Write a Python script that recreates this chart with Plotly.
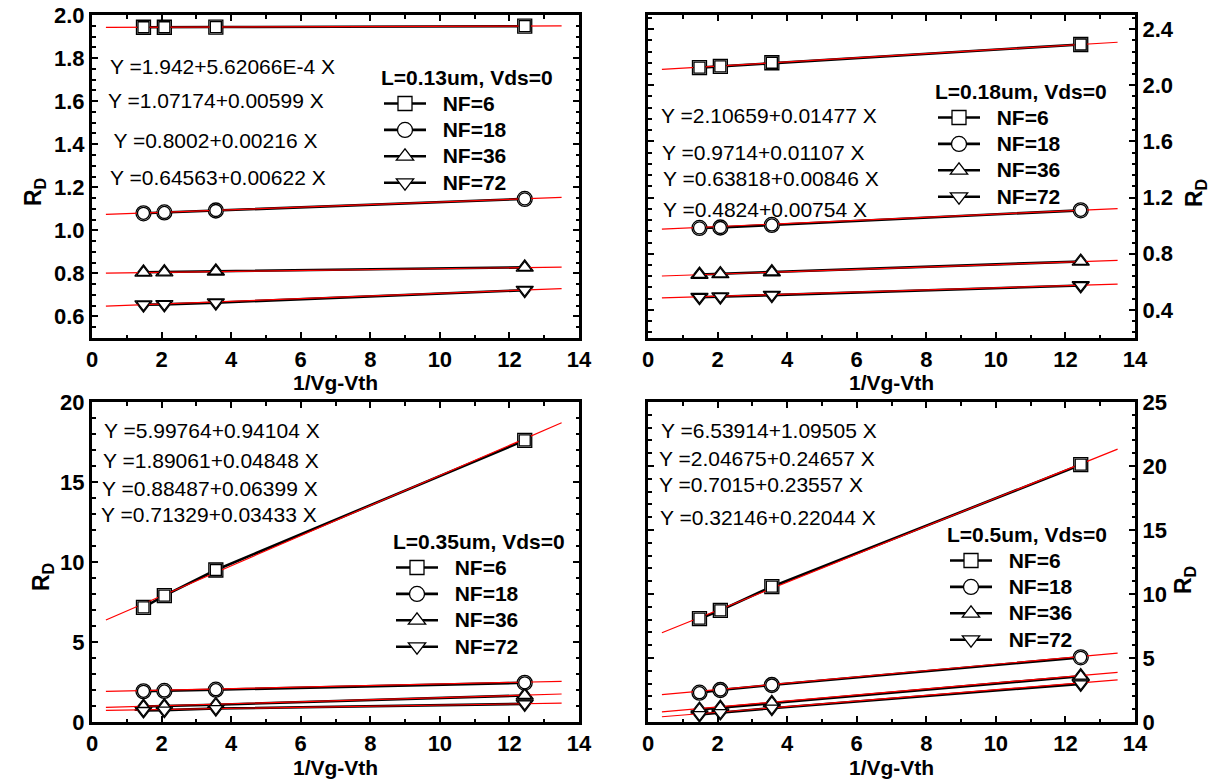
import plotly.graph_objects as go
import numpy as np

W, H = 1226, 782
FONT = "Liberation Sans, Arial, sans-serif"

# 1/(Vg-Vth) bias points shared by every device
vg_inv = [1.48, 2.08, 3.56, 12.44]
nf_labels = ["NF=6", "NF=18", "NF=36", "NF=72"]
symbols = ["square", "circle", "triangle-up", "triangle-down"]
marker_sizes = [11, 12, 12, 12]

# Measured drain resistance R_D, one list per finger count
rd_013 = [
    [1.943, 1.943, 1.944, 1.948],
    [1.079, 1.083, 1.092, 1.146],
    [0.805, 0.806, 0.810, 0.828],
    [0.655, 0.656, 0.664, 0.722],
]
rd_018 = [
    [2.125, 2.134, 2.160, 2.290],
    [0.984, 0.987, 1.005, 1.109],
    [0.652, 0.656, 0.670, 0.745],
    [0.490, 0.495, 0.505, 0.574],
]
rd_035 = [
    [7.17, 7.90, 9.50, 17.60],
    [1.92, 1.94, 2.02, 2.45],
    [0.97, 1.00, 1.08, 1.66],
    [0.72, 0.74, 0.84, 1.13],
]
rd_050 = [
    [8.07, 8.72, 10.57, 20.10],
    [2.29, 2.50, 2.89, 5.05],
    [0.98, 1.12, 1.50, 3.58],
    [0.58, 0.74, 1.08, 2.98],
]

# Linear fits R_D = a + b * X
fit_a_013 = [1.942, 1.07174, 0.8002, 0.64563]
fit_b_013 = [5.62066e-4, 0.00599, 0.00216, 0.00622]
fit_a_018 = [2.10659, 0.9714, 0.63818, 0.4824]
fit_b_018 = [0.01477, 0.01107, 0.00846, 0.00754]
fit_a_035 = [5.99764, 1.89061, 0.88487, 0.71329]
fit_b_035 = [0.94104, 0.04848, 0.06399, 0.03433]
fit_a_050 = [6.53914, 2.04675, 0.7015, 0.32146]
fit_b_050 = [1.09505, 0.24657, 0.23557, 0.22044]

eq_013 = ["Y =1.942+5.62066E-4 X", "Y =1.07174+0.00599 X",
          " Y =0.8002+0.00216 X", "Y =0.64563+0.00622 X"]
eq_018 = ["Y =2.10659+0.01477 X", "Y =0.9714+0.01107 X",
          "Y =0.63818+0.00846 X", "Y =0.4824+0.00754 X"]
eq_035 = ["Y =5.99764+0.94104 X", "Y =1.89061+0.04848 X",
          "Y =0.88487+0.06399 X", "Y =0.71329+0.03433 X"]
eq_050 = ["Y =6.53914+1.09505 X", "Y =2.04675+0.24657 X",
          "Y =0.7015+0.23557 X", "Y =0.32146+0.22044 X"]

titles = ["L=0.13um, Vds=0", "L=0.18um, Vds=0", "L=0.35um, Vds=0", "L=0.5um, Vds=0"]
fit_x = [0.4, 13.5]


def px(x):
    return x / W


def py(y):
    return 1 - y / H


# panel geometry in pixels: (left, right, top, bottom)
boxes = [(92, 579, 15, 338), (648, 1135, 15, 338),
         (92, 579, 402, 722), (648, 1135, 402, 722)]

panels = [
    dict(rd=rd_013, a=fit_a_013, b=fit_b_013, eq=eq_013,
         eq_pos=[(108, 67), (106, 101), (106, 141), (108, 177)],
         leg=(379, 58), rd_lab=(34, 192)),
    dict(rd=rd_018, a=fit_a_018, b=fit_b_018, eq=eq_018,
         eq_pos=[(659, 115), (660, 152), (661, 178), (661, 209)],
         leg=(933, 72), rd_lab=(1196, 193)),
    dict(rd=rd_035, a=fit_a_035, b=fit_b_035, eq=eq_035,
         eq_pos=[(102, 430), (101, 460), (100, 488), (99, 514)],
         leg=(391, 522), rd_lab=(42, 577)),
    dict(rd=rd_050, a=fit_a_050, b=fit_b_050, eq=eq_050,
         eq_pos=[(659, 430), (657, 458), (657, 485), (658, 517)],
         leg=(945, 515), rd_lab=(1184, 580)),
]

yaxes_cfg = [
    dict(range=[0.5, 2.0], dtick=0.2, tick0=0.6, tickformat=".1f", side="left",
         minor_dtick=0.05, minor_tick0=0.6),
    dict(range=[0.2, 2.5], dtick=0.4, tick0=0.4, tickformat=".1f", side="right",
         minor_dtick=0.08, minor_tick0=0.4),
    dict(range=[0, 20], dtick=5, tick0=0, tickformat="d", side="left",
         minor_dtick=1, minor_tick0=0),
    dict(range=[0, 25], dtick=5, tick0=0, tickformat="d", side="right",
         minor_dtick=1, minor_tick0=0),
]

fig = go.Figure()
annotations = []
layout = {}

for i, (p, box) in enumerate(zip(panels, boxes)):
    n = "" if i == 0 else str(i + 1)
    xa, ya = "x" + n, "y" + n
    leg = "legend" + n
    for k in range(4):
        # measured points joined by a black line (also the legend entry)
        fig.add_trace(go.Scatter(
            x=vg_inv, y=p["rd"][k], mode="lines+markers",
            name='<span style="font-size:21px">&nbsp;&nbsp;%s</span>' % nf_labels[k],
            xaxis=xa, yaxis=ya, legend=leg,
            line=dict(color="black", width=2.6),
            marker=dict(symbol=symbols[k], size=marker_sizes[k] + 3, color="white",
                        line=dict(color="black", width=1.3)),
        ))
    for k in range(4):
        fx = np.array(fit_x)
        fy = p["a"][k] + p["b"][k] * fx
        fig.add_trace(go.Scatter(
            x=fx, y=fy, mode="lines", showlegend=False, hoverinfo="skip",
            xaxis=xa, yaxis=ya, line=dict(color="red", width=1.2),
        ))
    for k in range(4):
        fig.add_trace(go.Scatter(
            x=vg_inv, y=p["rd"][k], mode="markers", showlegend=False,
            xaxis=xa, yaxis=ya,
            marker=dict(symbol=symbols[k], size=marker_sizes[k], color="white",
                        line=dict(color="black", width=1.3)),
        ))

    l, r, t, b = box
    yc = yaxes_cfg[i]
    layout["xaxis" + n] = dict(
        domain=[px(l), px(r)], anchor=ya, range=[0, 14], dtick=2, tick0=0,
        ticks="inside", ticklen=6, tickwidth=2, tickcolor="black",
        showline=True, linewidth=3, linecolor="black", mirror="ticks",
        showgrid=False, zeroline=False,
        tickfont=dict(family=FONT, size=22, color="black", weight="bold"),
        minor=dict(dtick=1, tick0=0, ticks="inside", ticklen=3.5, tickwidth=1.5,
                   tickcolor="black", showgrid=False),
    )
    layout["yaxis" + n] = dict(
        domain=[py(b), py(t)], anchor=xa, range=yc["range"], dtick=yc["dtick"],
        tick0=yc["tick0"], tickformat=yc["tickformat"], side=yc["side"],
        ticks="inside", ticklen=6, tickwidth=2, tickcolor="black",
        showline=True, linewidth=3, linecolor="black", mirror="ticks",
        showgrid=False, zeroline=False,
        tickfont=dict(family=FONT, size=22, color="black", weight="bold"),
        minor=dict(dtick=yc["minor_dtick"], tick0=yc["minor_tick0"], ticks="inside",
                   ticklen=3.5, tickwidth=1.5, tickcolor="black", showgrid=False),
    )

    lx, ly = p["leg"]
    layout[leg] = dict(
        x=px(lx), y=py(ly), xanchor="left", yanchor="top", xref="paper", yref="paper",
        bgcolor="rgba(0,0,0,0)", borderwidth=0, traceorder="normal",
        font=dict(family=FONT, size=18, color="black", weight="bold"),
        title=dict(text=titles[i], side="top",
                   font=dict(family=FONT, size=21, color="black", weight="bold")),
        itemwidth=42, tracegroupgap=0,
    )

    for text, (ex, ey) in zip(p["eq"], p["eq_pos"]):
        annotations.append(dict(
            text=text, x=px(ex), y=py(ey), xref="paper", yref="paper",
            xanchor="left", yanchor="middle", showarrow=False,
            font=dict(family=FONT, size=21, color="black"),
        ))

    # x-axis title
    annotations.append(dict(
        text="1/Vg-Vth", x=px((l + r) / 2), y=py(b + 44 if i < 2 else b + 45),
        xref="paper", yref="paper", xanchor="center", yanchor="middle",
        showarrow=False, font=dict(family=FONT, size=21, color="black", weight="bold"),
    ))
    # y-axis title
    rx, ry = p["rd_lab"]
    annotations.append(dict(
        text="R<sub>D</sub>", x=px(rx), y=py(ry), xref="paper", yref="paper",
        xanchor="center", yanchor="middle", textangle=-90, showarrow=False,
        font=dict(family=FONT, size=23, color="black", weight="bold"),
    ))

fig.update_layout(
    width=W, height=H,
    margin=dict(l=0, r=0, t=0, b=0, autoexpand=False),
    paper_bgcolor="white", plot_bgcolor="white",
    annotations=annotations,
    **layout,
)

fig.write_html("out.html")
